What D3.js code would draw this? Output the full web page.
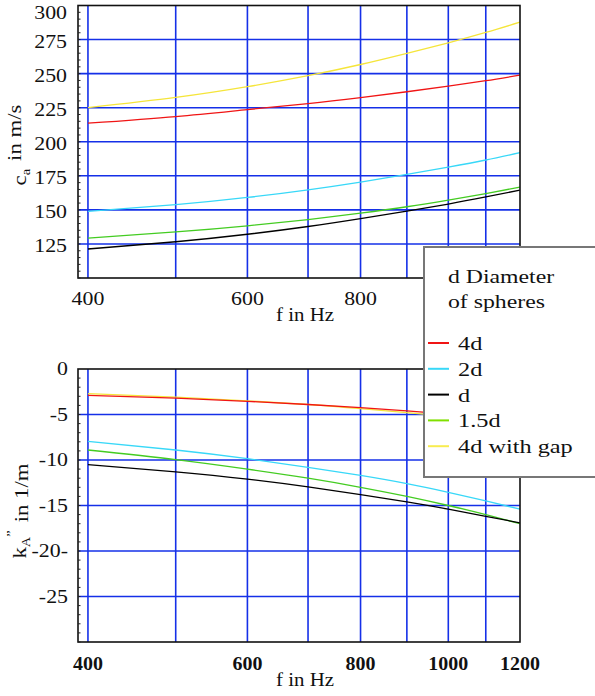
<!DOCTYPE html>
<html>
<head>
<meta charset="utf-8">
<script src="https://cdn.jsdelivr.net/npm/d3@7"></script>
</head>
<body style="margin:0">
<script>
// frequencies in Hz (log axis)
var freqs = [400, 500, 600, 700, 800, 900, 1000, 1100, 1200];
var xTickValsTop = [400, 600, 800];
var xTickVals = [400, 600, 800, 1000, 1200];
var xGridVals = [400, 500, 600, 700, 800, 900, 1000, 1100];

// legend order
var seriesNames = ["4d", "2d", "d", "1.5d", "4d with gap"];
var seriesColors = ["#f01515", "#38d8f8", "#000000", "#44cc22", "#f5e53a"];
var legendColors = ["#f01515", "#38d8f8", "#000000", "#80e000", "#f8ec50"];

// phase speed c_a in m/s
var ca4d    = [213.6, 218.5, 223.6, 228.0, 232.4, 236.7, 240.9, 244.8, 248.9];
var ca2d    = [148.9, 153.8, 159.1, 164.7, 170.4, 176.0, 181.4, 186.6, 192.0];
var ca1d    = [121.3, 126.6, 132.1, 137.8, 143.6, 149.1, 154.3, 159.5, 164.5];
var ca15d   = [129.3, 133.8, 138.3, 142.9, 147.6, 152.3, 157.2, 162.0, 166.7];
var ca4dGap = [225.0, 232.5, 240.4, 248.5, 256.7, 264.9, 272.6, 280.2, 287.8];

// attenuation k_A'' in 1/m
var k4d    = [-2.9, -3.2, -3.55, -3.9, -4.25, -4.6, -4.95, -5.3, -5.65];
var k2d    = [-7.95, -8.9, -9.85, -10.8, -11.7, -12.6, -13.55, -14.5, -15.4];
var k1d    = [-10.5, -11.3, -12.1, -12.95, -13.8, -14.6, -15.4, -16.2, -16.9];
var k15d   = [-8.9, -9.95, -11.0, -12.0, -13.0, -14.0, -15.0, -16.0, -17.0];
var k4dGap = [-2.7, -3.1, -3.5, -3.9, -4.35, -4.8, -5.2, -5.6, -6.0];

var caTicks = [125, 150, 175, 200, 225, 250, 275, 300];
var kTicks = [0, -5, -10, -15, -20, -25];
var kTickLabels = ["0", "-5", "-10", "-15", "-20-", "-25"];

var svg = d3.select("body").append("svg")
    .attr("width", 595)
    .attr("height", 696);

// serif text: set at 30px and scaled down to the wanted size,
// widened horizontally by k (the original face runs wide)
var BASE = 30;
function txt(parent, px, py, k, size) {
  var s = size / BASE;
  return parent.append("text")
    .attr("transform", "translate(" + px + "," + py + ")scale(" + (k * s) + "," + s + ")")
    .attr("font-family", "Liberation Serif")
    .attr("font-size", BASE)
    .attr("fill", "#111");
}

var x = d3.scaleLog().domain([390, 1200]).range([78, 520]);

function panel(cfg) {
  var y = d3.scaleLinear().domain(cfg.yDomain).range(cfg.yRange);
  var g = svg.append("g");
  var top = cfg.yRange[1], bottom = cfg.yRange[0];

  // grid
  g.selectAll(".hg").data(cfg.grid).enter().append("line")
    .attr("x1", x.range()[0]).attr("x2", x.range()[1])
    .attr("y1", function(d) { return y(d); }).attr("y2", function(d) { return y(d); })
    .attr("stroke", "#1530e8").attr("stroke-width", 1.6);
  g.selectAll(".vg").data(xGridVals).enter().append("line")
    .attr("x1", function(d) { return x(d); }).attr("x2", function(d) { return x(d); })
    .attr("y1", top).attr("y2", bottom)
    .attr("stroke", "#1530e8").attr("stroke-width", 1.6);

  // curves
  var line = d3.line()
    .x(function(d, i) { return x(freqs[i]); })
    .y(function(d) { return y(d); })
    .curve(d3.curveNatural);
  // yellow first so red shows on top where they overlap
  var order = [4, 1, 3, 2, 0];
  order.forEach(function(i) {
    g.append("path")
      .attr("d", line(cfg.series[i]))
      .attr("fill", "none")
      .attr("stroke", seriesColors[i])
      .attr("stroke-width", 1.3);
  });

  // frame
  g.append("rect")
    .attr("x", x.range()[0]).attr("y", top)
    .attr("width", x.range()[1] - x.range()[0]).attr("height", bottom - top)
    .attr("fill", "none").attr("stroke", "#111").attr("stroke-width", 1.6);

  // minor ticks inside the left axis
  var minor = d3.range(cfg.yDomain[0], cfg.yDomain[1], cfg.minorStep);
  g.selectAll(".mt").data(minor).enter().append("line")
    .attr("x1", x.range()[0]).attr("x2", x.range()[0] + 2.5)
    .attr("y1", function(d) { return y(d); }).attr("y2", function(d) { return y(d); })
    .attr("stroke", "#222").attr("stroke-width", 1);

  // y tick labels
  cfg.yTicks.forEach(function(d, i) {
    txt(g, cfg.yLabelX, Math.max(y(d), 11), 1.15, 19)
      .attr("dy", cfg.yLabelDy)
      .attr("text-anchor", "end")
      .text(cfg.yTickLabels[i]);
  });

  // x tick labels
  cfg.xTicks.forEach(function(d) {
    txt(g, x(d), cfg.xLabelY, cfg.boldX ? 1.05 : 1.15, 19)
      .attr("text-anchor", "middle")
      .attr("font-weight", cfg.boldX ? "bold" : "normal")
      .text(d);
  });

  // x title
  txt(g, 305, cfg.xTitleY, 1.1, 19)
    .attr("text-anchor", "middle")
    .text("f in Hz");

  // y title
  var yt = g.append("g")
    .attr("transform", "translate(26," + cfg.yTitleY + ")rotate(-90)");
  cfg.yTitle(txt(yt, 0, 0, 1.2, 19).attr("text-anchor", "middle"));
}

panel({
  yDomain: [100, 300], yRange: [278, 5.5],
  grid: [125, 150, 175, 200, 225, 250, 275],
  series: [ca4d, ca2d, ca1d, ca15d, ca4dGap],
  minorStep: 5,
  yTicks: caTicks, yTickLabels: caTicks.map(String), yLabelX: 67, yLabelDy: "0.42em",
  xTicks: xTickValsTop,
  xLabelY: 305, xTitleY: 321, boldX: false,
  yTitleY: 145,
  yTitle: function(t) {
    t.append("tspan").text("c");
    t.append("tspan").attr("dy", "0.3em").attr("font-size", 19).text("a");
    t.append("tspan").attr("dy", "-0.45em").attr("dx", 3).text(" in m/s");
  }
});

panel({
  yDomain: [-30, 0], yRange: [642, 369],
  grid: [-5, -10, -15, -20, -25],
  series: [k4d, k2d, k1d, k15d, k4dGap],
  minorStep: 1,
  yTicks: kTicks, yTickLabels: kTickLabels, yLabelX: 68, yLabelDy: "0.33em",
  xTicks: xTickVals,
  xLabelY: 670, xTitleY: 686, boldX: true,
  yTitleY: 511,
  yTitle: function(t) {
    t.append("tspan").text("k");
    t.append("tspan").attr("dy", "0.3em").attr("font-size", 19).text("A");
    t.append("tspan").attr("dy", "-1.2em").attr("font-size", 19).text("\u201D");
    t.append("tspan").attr("dy", "0.7em").attr("dx", 3).text(" in 1/m");
  }
});

// legend
var lg = svg.append("g");
lg.append("rect")
  .attr("x", 424).attr("y", 247)
  .attr("width", 200).attr("height", 230)
  .attr("fill", "#fff").attr("stroke", "#777").attr("stroke-width", 2);

["d Diameter", "of spheres"].forEach(function(d, i) {
  txt(lg, 448, 283 + i * 25, 1.25, 19).text(d);
});

seriesNames.forEach(function(d, i) {
  var yy = 350 + i * 25.8;
  lg.append("line")
    .attr("x1", 428).attr("x2", 449)
    .attr("y1", yy - 7).attr("y2", yy - 7)
    .attr("stroke", legendColors[i])
    .attr("stroke-width", 2);
  txt(lg, 458, yy, 1.28, 19).text(d);
});
</script>
</body>
</html>
